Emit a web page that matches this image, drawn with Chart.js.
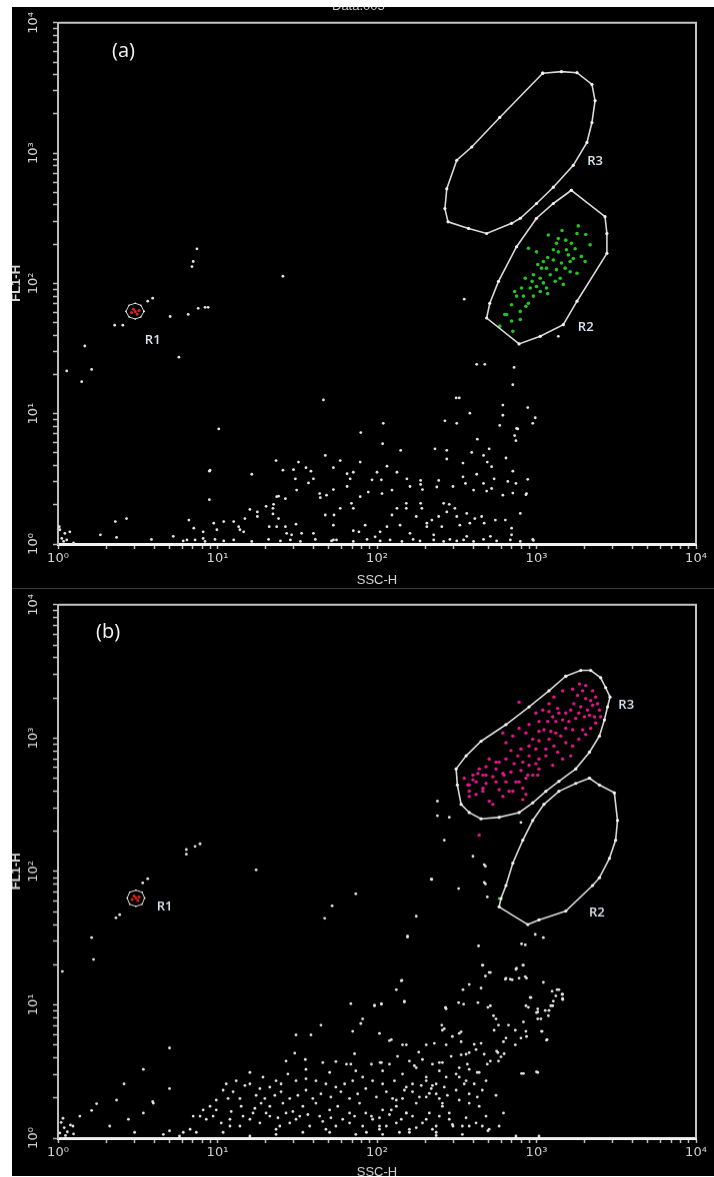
<!DOCTYPE html>
<html>
<head>
<meta charset="utf-8">
<script src="https://cdn.jsdelivr.net/npm/chart.js@4/dist/chart.umd.min.js"></script>
<style>
  html, body { margin: 0; padding: 0; background: #fff; }
  body { width: 714px; height: 1177px; position: relative; overflow: hidden; }
  canvas { position: absolute; left: 12px; background: #000; }
  #chartA { top: 7px; }
  #chartB { top: 588px; border-top: 1px solid #3a3a3a; }
  .panel { position: absolute; color: #f4f4f4; font-family: "Open Sans", sans-serif; font-size: 20px; }
  #topTitle { position: absolute; left: 12px; top: 7px; width: 702px; height: 10px; overflow: hidden; }
  #topTitle span { position: absolute; left: 320px; top: -9px; font: 13px "Liberation Sans", sans-serif; color: #cfcfcf; }
</style>
</head>
<body>
<canvas id="chartA" width="702" height="581"></canvas>
<canvas id="chartB" width="702" height="588"></canvas>
<div id="topTitle"><span>Data.003</span></div>
<div class="panel" style="left:112px;top:36px">(a)</div>
<div class="panel" style="left:96px;top:617px">(b)</div>

<script>
// FACSCalibur style data: 1024 channels over 4 log decades (256 channels / decade)
const tickLabels = ["10⁰", "10¹", "10²", "10³", "10⁴"];
const xTitle = "SSC-H";
const yTitle = "FL1-H";

/* ---------- panel (a) ---------- */
const gateR1a = [[138,457],[133,469],[124,473],[114,469],[109,457],[114,446],[124,442],[133,446],[138,457]];
const gateR2a = [[824,695],[878,643],[881,610],[881,571],[833,477],[811,431],[774,408],[740,393],[688,444],[693,473],[707,516],[736,584],[768,640],[795,669],[824,695]];
const gateR3a = [[778,925],[808,928],[833,926],[857,903],[862,871],[857,828],[849,789],[827,744],[795,701],[768,669],[742,640],[728,630],[688,610],[659,620],[626,633],[621,659],[624,698],[640,754],[664,780],[709,838],[778,925]];
const labelsA = [["R1",152,401],["R2",847,426],["R3",862,752]];

const redA = [[124,457],[130,459],[118,455],[127,452],[121,461],[766,637]];

const greenA = [[787,607],[815,597],[835,625],[833,610],[800,591],[803,574],[819,568],[827,561],[755,581],[768,574],
  [779,555],[795,558],[808,552],[800,539],[784,542],[776,542],[790,529],[806,522],[774,522],[763,529],
  [750,522],[744,503],[758,503],[768,506],[779,513],[736,487],[747,487],[755,473],[728,470],[720,451],
  [742,457],[840,565],[833,532],[816,578],[824,591],[846,555],[803,600],[822,535],[814,542],[822,555],
  [798,516],[784,503],[774,496],[763,487],[728,438],[742,441],[717,451],[847,608],[830,580],[809,616],
  [854,588],[795,578],[786,563],[770,549],[761,516],[733,496],[751,467],[730,418],[709,428],[811,510],[786,492]];

const whiteA = [[730,313],[426,283],[639,287],[644,287],[714,273],[714,253],[754,268],[258,226],[621,242],[640,237],
  [661,257],[709,233],[738,226],[762,237],[522,237],[486,219],[521,197],[673,206],[733,213],[735,203],
  [550,184],[624,184],[605,187],[692,187],[664,180],[429,174],[453,164],[350,164],[386,161],[485,161],
  [624,167],[650,159],[683,174],[719,169],[689,161],[696,152],[244,145],[311,137],[361,145],[378,146],
  [398,150],[406,143],[410,128],[381,128],[402,120],[442,150],[464,138],[469,128],[528,153],[512,141],
  [504,126],[519,126],[544,141],[560,128],[582,125],[582,117],[611,125],[650,132],[672,137],[730,143],
  [700,128],[722,123],[754,127],[667,106],[683,119],[688,104],[696,109],[714,96],[730,100],[735,119],
  [751,97],[634,113],[654,119],[608,112],[585,107],[565,113],[536,106],[520,99],[498,102],[485,93],
  [464,113],[442,107],[420,99],[421,91],[431,96],[383,106],[354,94],[365,89],[334,74],[320,63],
  [320,54],[345,70],[345,59],[308,68],[300,50],[282,44],[266,44],[250,41],[243,87],[210,47],
  [218,31],[233,24],[255,28],[290,34],[298,24],[339,34],[351,34],[354,50],[365,34],[382,39],
  [375,18],[410,21],[429,57],[442,37],[443,57],[453,70],[474,70],[483,24],[493,37],[509,14],
  [517,24],[528,34],[536,57],[544,70],[559,80],[559,70],[549,37],[565,21],[575,54],[582,80],
  [584,70],[592,41],[592,34],[600,47],[603,18],[616,34],[611,54],[619,80],[624,63],[628,78],
  [637,70],[640,54],[645,37],[656,60],[661,41],[656,15],[669,50],[680,54],[684,41],[702,47],
  [694,15],[718,47],[742,60],[762,9],[728,31],[672,353],[685,353],[732,347],[766,248],[736,227],
  [803,408],[728,18],[752,99],[43,389],[54,343],[14,340],[38,319],[194,367],[243,143],[92,44],
  [110,50],[68,18],[94,13],[150,9],[185,15],[207,8],[233,11],[292,28],[367,21],[391,21],
  [442,8],[474,26],[471,80],[474,141],[351,93],[346,78],[3,28],[11,21],[19,24],[6,11],
  [14,8],[25,2],[2,34],[9,5],[217,555],[223,580],[215,545],[361,526],[144,477],[152,483],
  [180,447],[209,451],[225,463],[236,465],[241,465],[91,430],[104,430],[652,481],
  [201,6],[220,8],[236,5],[252,9],[266,6],[282,8],[311,5],[338,9],[357,6],[373,8],
  [389,5],[413,9],[439,6],[447,8],[474,5],[496,9],[517,6],[533,8],[552,5],[570,9],
  [581,6],[603,8],[619,5],[629,9],[640,6],[651,8],[667,5],[683,9],[704,6],[726,8],[742,5],[763,7]];

/* ---------- panel (b) ---------- */
const gateR1b = [[139,461],[135,472],[125,476],[115,472],[111,461],[115,449],[125,445],[135,449],[139,461]];
const gateR2b = [[853,691],[869,678],[893,663],[898,610],[895,572],[885,537],[869,500],[858,485],[815,436],[772,419],[754,410],[708,444],[711,460],[719,485],[730,528],[746,572],[762,610],[780,641],[804,666],[831,681],[853,691]];
const gateR3b = [[815,887],[839,898],[855,898],[871,884],[879,865],[886,847],[882,828],[877,803],[869,772],[853,741],[831,709],[804,685],[783,666],[762,644],[740,625],[708,616],[679,613],[660,625],[647,641],[641,678],[639,709],[655,734],[679,762],[719,794],[756,828],[788,859],[815,887]];
const labelsB = [["R1",171,444],["R2",865,432],["R3",912,831]];

const redB = [[125,461],[130,463],[119,458],[128,456],[122,465]];
const greenB = [[708,460]];

const magentaB = [[842,859],[834,850],[847,844],[855,840],[828,834],[839,828],[858,831],[850,822],[836,816],[823,822],
  [815,816],[802,825],[804,816],[794,809],[799,800],[810,803],[820,800],[831,806],[845,809],[853,812],
  [861,809],[815,787],[826,784],[842,784],[786,800],[780,784],[772,781],[791,781],[799,778],[807,772],
  [788,766],[772,763],[762,766],[756,753],[767,747],[783,747],[796,753],[802,741],[783,734],[772,728],
  [756,734],[743,747],[738,734],[727,744],[719,728],[732,719],[746,722],[708,722],[703,709],[692,728],
  [687,713],[676,709],[698,694],[714,700],[727,703],[743,706],[754,697],[740,684],[719,684],[682,697],
  [671,684],[660,678],[687,681],[703,684],[666,697],[652,691],[660,666],[682,666],[708,669],[724,666],
  [746,672],[770,697],[767,719],[740,837],[788,834],[796,847],[810,859],[826,862],[837,872],[847,869],
  [858,859],[863,847],[866,834],[869,822],[871,809],[863,797],[855,787],[847,775],[836,766],[826,753],
  [815,759],[823,734],[810,728],[794,716],[772,709],[756,716],[751,691],[730,772],[719,759],[714,778],
  [740,787],[751,778],[756,794],[772,800],[767,816],[778,822],[788,819],[658,678],[666,688],[682,672],
  [671,660],[660,656],[692,647],[698,641],[714,656],[730,666],[746,650],[751,660],[687,697],[674,700],
  [703,722],[716,697],[735,684],[762,697],[676,582]];

const whiteB = [[318,515],[478,469],[440,446],[428,422],[575,426],[561,388],[600,497],[643,479],[686,522],[686,488],
  [689,463],[675,369],[766,391],[779,385],[744,373],[750,371],[681,332],[694,318],[686,311],[718,305],
  [726,305],[736,326],[747,332],[752,307],[679,288],[779,299],[793,282],[801,285],[810,276],[810,266],
  [795,263],[791,254],[782,245],[787,235],[758,270],[755,251],[768,241],[770,229],[776,205],[784,188],
  [768,127],[744,124],[715,48],[551,302],[543,285],[556,261],[470,258],[508,255],[519,258],[622,250],
  [643,260],[651,257],[694,254],[699,235],[707,217],[723,217],[734,207],[747,223],[752,195],[734,179],
  [715,185],[704,167],[694,148],[679,182],[668,180],[660,164],[647,204],[633,195],[623,179],[616,217],
  [604,182],[591,179],[579,165],[559,179],[532,187],[516,201],[486,220],[473,205],[422,217],[382,198],
  [406,198],[179,173],[380,163],[366,148],[397,151],[425,145],[446,147],[463,142],[476,162],[470,142],
  [503,142],[519,145],[532,142],[545,157],[564,148],[585,151],[601,142],[617,145],[631,157],[647,160],
  [657,142],[673,126],[687,110],[689,142],[707,148],[716,162],[308,126],[329,117],[350,110],[286,110],
  [265,92],[273,76],[292,76],[308,104],[324,95],[340,98],[358,104],[369,123],[382,110],[398,114],
  [414,110],[430,104],[446,98],[460,104],[473,110],[489,117],[505,110],[521,104],[540,110],[556,92],
  [569,104],[591,110],[607,104],[623,117],[639,123],[655,110],[668,104],[681,92],[703,82],[254,73],
  [244,61],[254,54],[278,51],[294,61],[313,48],[326,67],[340,61],[361,67],[377,51],[393,61],
  [414,67],[436,54],[449,61],[468,48],[484,67],[503,42],[521,54],[543,61],[559,48],[575,67],
  [591,79],[607,85],[617,67],[628,48],[644,73],[660,85],[676,61],[687,42],[228,42],[238,36],
  [249,42],[262,29],[276,36],[292,23],[308,36],[324,29],[340,42],[356,23],[372,29],[388,42],
  [404,23],[425,32],[446,23],[468,29],[489,23],[505,36],[527,23],[543,29],[564,17],[585,29],
  [607,23],[628,36],[649,23],[671,29],[692,17],[708,23],[212,17],[201,11],[179,14],[153,67],
  [179,95],[169,7],[195,4],[222,11],[265,11],[308,4],[350,7],[393,11],[436,11],[478,7],
  [521,7],[564,11],[607,11],[649,7],[735,4],[772,4],[54,385],[57,343],[7,320],[137,132],
  [106,104],[152,70],[137,48],[62,66],[54,53],[94,73],[113,36],[35,42],[24,23],[83,23],
  [123,11],[217,42],[233,54],[5,30],[10,20],[15,12],[3,10],[20,25],[25,8],[8,38],
  [12,5],[206,554],[206,545],[220,560],[228,565],[136,490],[144,498],[99,429],[93,423],[609,647],
  [609,619],[628,616],[620,572],[666,541],[684,525],[599,497],[684,491],[743,606],[561,386],[682,332],
  [692,318],[746,332],[735,324],[719,307],[729,304],[740,307],[750,310],[804,285],[809,276],[810,268],
  [799,273],[794,254],[788,245],[770,248],[770,242],[759,270],[751,254],[775,229],[777,205],[785,189],
  [770,126],[747,124],[743,192],[751,205],[719,192],[706,164],[711,156],[700,207],[703,229],[690,251],
  [674,260],[660,295],[650,285],[623,248],[620,210],[617,207],[644,201],[647,185],[655,161],[671,170],
  [684,161],[676,126],[660,132],[644,117],[620,98],[596,86],[612,145],[591,117],[572,139],[553,179],
  [535,189],[517,145],[519,257],[508,254],[489,229],[556,263],[552,303],[622,251],[601,101],[580,79],
  [559,98],[543,73],[535,54],[559,48],[596,48],[617,61],[634,23],[660,23],[690,14],[495,11],
  [516,23],[548,11],[575,20],[607,5],
  [270,104],[281,89],[300,101],[318,82],[332,76],[348,82],[358,89],[372,76],[385,82],[398,92],
  [409,76],[422,85],[438,79],[454,89],[468,76],[481,85],[494,95],[511,79],[527,89],[537,76],
  [553,76],[569,89],[583,101],[599,95],[612,76],[625,82],[639,92],[652,104],[660,67],[673,79],
  [297,42],[316,57],[334,48],[353,39],[366,48],[382,36],[401,45],[420,42],[438,39],[457,36],
  [476,42],[494,48],[516,39],[532,45],[551,36],[569,42],[591,36],[612,42],[633,26],[655,39],
  [276,23],[350,17],[430,17],[516,17],[601,17],[681,23],[398,132],[436,126],[478,129],[521,129],
  [553,123],[575,135],[612,129],[644,135]];

/* ---------- scales ---------- */
function logTicks(scale) {
  const t = [];
  for (let d = 0; d < 4; d++) {
    for (let k = 1; k < 10; k++) t.push({ value: 256 * (d + Math.log10(k)) });
  }
  t.push({ value: 1024 });
  scale.ticks = t;
}

function tickText(v) {
  const d = v / 256;
  return Math.abs(d - Math.round(d)) < 1e-6 ? tickLabels[Math.round(d)] : "";
}

const textColor = "#d4d4d4";

function makeScales(xAxisH, titleBottom) {
  return {
    x: {
      type: "linear", min: 0, max: 1024,
      afterBuildTicks: logTicks,
      afterFit: s => { s.height = xAxisH; },
      border: { display: true, color: "#f2f2f2", width: 3 },
      grid: { drawOnChartArea: false, drawTicks: true, tickLength: 5, tickColor: "#bdbdbd", tickWidth: 1.5 },
      ticks: { autoSkip: false, minRotation: 0, maxRotation: 0, padding: 2, color: textColor,
               font: { family: "DejaVu Sans", size: 13 }, callback: tickText },
      title: { display: true, text: xTitle, color: textColor,
               font: { family: "Liberation Sans", size: 13, lineHeight: 1 }, padding: { top: 0, bottom: titleBottom } }
    },
    y: {
      type: "linear", min: 0, max: 1024,
      afterBuildTicks: logTicks,
      afterFit: s => { s.width = 46; },
      border: { display: true, color: "#bdbdbd", width: 2 },
      grid: { drawOnChartArea: false, drawTicks: true, tickLength: 5, tickColor: "#bdbdbd", tickWidth: 1.5 },
      ticks: { autoSkip: false, minRotation: 90, maxRotation: 90, crossAlign: "center", padding: 8,
               color: textColor, font: { family: "DejaVu Sans", size: 13 }, callback: tickText },
      title: { display: true, text: yTitle, color: textColor,
               font: { family: "Liberation Sans", size: 13, weight: "bold", lineHeight: 1 }, padding: { top: -2, bottom: 0 } }
    }
  };
}

/* ---------- plugins ---------- */
const framePlugin = {
  id: "frame",
  beforeDatasetsDraw(chart) {
    const { ctx, chartArea: a } = chart;
    ctx.save();
    ctx.strokeStyle = "#c4c4c4";
    ctx.lineWidth = 2;
    ctx.beginPath();
    ctx.moveTo(a.left, a.top);
    ctx.lineTo(a.right, a.top);
    ctx.lineTo(a.right, a.bottom);
    ctx.stroke();
    ctx.restore();
  }
};

const gateLabelPlugin = {
  id: "gateLabels",
  afterDatasetsDraw(chart, args, opts) {
    const { ctx, scales: { x, y } } = chart;
    ctx.save();
    ctx.font = '600 13px "Open Sans"';
    ctx.fillStyle = "#d8e4ee";
    ctx.textAlign = "center";
    ctx.textBaseline = "middle";
    opts.items.forEach(([t, vx, vy]) => ctx.fillText(t, x.getPixelForValue(vx), y.getPixelForValue(vy)));
    ctx.restore();
  }
};

function gate(data, w, r) {
  return { data, showLine: true, fill: false, tension: 0, borderColor: "#d9d9d9", borderWidth: w,
           pointRadius: r, pointBackgroundColor: "#f0f0f0", pointBorderWidth: 0, order: 0 };
}
function dots(data, color, r, order) {
  return { data, showLine: false, pointRadius: r, pointBackgroundColor: color, pointBorderWidth: 0, order };
}

function makeChart(id, datasets, labels, padTop, xAxisH, titleBottom) {
  return new Chart(document.getElementById(id), {
    type: "scatter",
    data: { datasets },
    options: {
      responsive: false, animation: false, events: [],
      layout: { padding: { top: padTop, right: 18, left: 0, bottom: 0 } },
      scales: makeScales(xAxisH, titleBottom),
      plugins: { legend: { display: false }, tooltip: { enabled: false }, gateLabels: { items: labels } }
    },
    plugins: [framePlugin, gateLabelPlugin]
  });
}

makeChart("chartA", [
  gate(gateR1a, 1, 0.8), gate(gateR2a, 1.6, 1.6), gate(gateR3a, 1.6, 1.6),
  dots(redA, "#e0241c", 1.5, 1),
  dots(greenA, "#22c422", 1.8, 1),
  dots(whiteA, "#e4e4e4", 1.4, 2)
], labelsA, 13, 44, 1);

makeChart("chartB", [
  gate(gateR1b, 1, 0.8), gate(gateR2b, 1.6, 1.6), gate(gateR3b, 1.6, 1.6),
  dots(redB, "#e0241c", 1.5, 1),
  dots(greenB, "#22c422", 1.5, 1),
  dots(magentaB, "#e2158a", 1.7, 1),
  dots(whiteB, "#e4e4e4", 1.4, 2)
], labelsB, 4, 38, -3);
</script>
</body>
</html>
